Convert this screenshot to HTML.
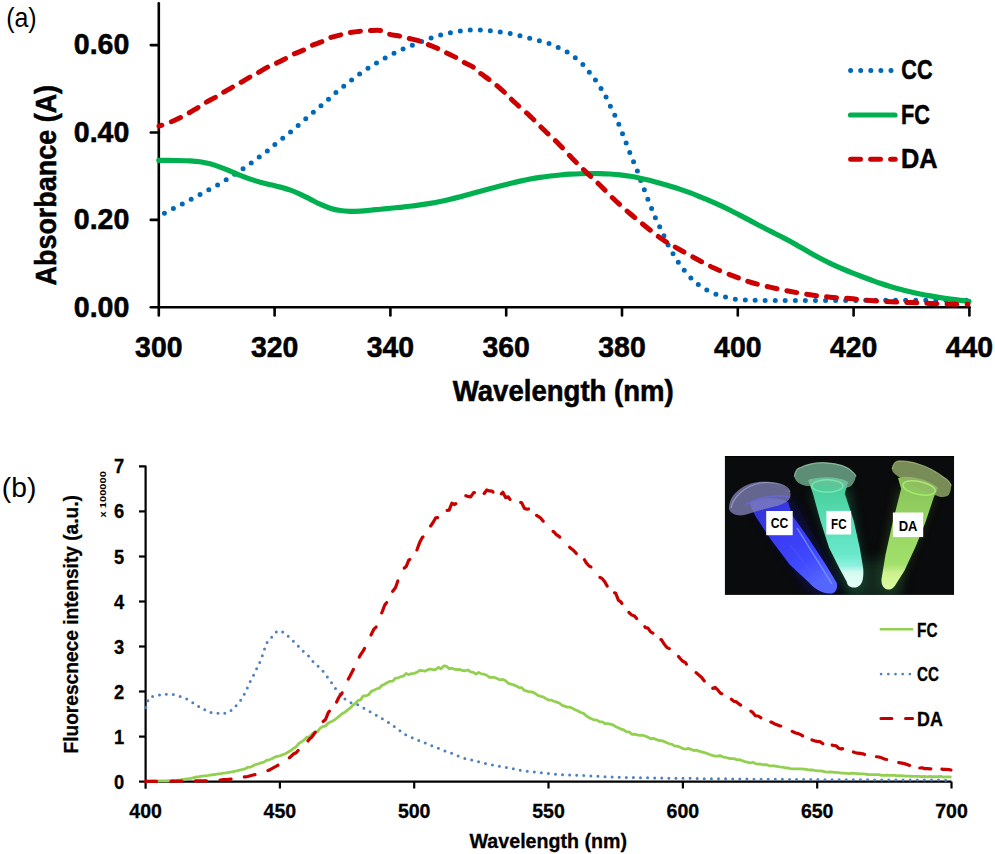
<!DOCTYPE html>
<html><head><meta charset="utf-8"><title>Absorbance and fluorescence spectra</title>
<style>html,body{margin:0;padding:0;background:#fff;width:995px;height:854px;overflow:hidden}svg{display:block}</style>
</head><body>
<svg width="995" height="854" viewBox="0 0 995 854" font-family='"Liberation Sans", sans-serif'>
<rect width="995" height="854" fill="#fff"/>
<g stroke="#000" stroke-width="2.6" fill="none" stroke-linecap="round">
<path d="M158.8,3.2 L158.8,315.5"/>
<path d="M158.8,307.3 L969.4,307.3"/>
<path d="M150.8,219.9 L158.8,219.9"/>
<path d="M150.8,132.5 L158.8,132.5"/>
<path d="M150.8,45.1 L158.8,45.1"/>
<path d="M150.8,307.3 L158.8,307.3"/>
<path d="M274.6,307.3 L274.6,315.5"/>
<path d="M390.4,307.3 L390.4,315.5"/>
<path d="M506.2,307.3 L506.2,315.5"/>
<path d="M622.0,307.3 L622.0,315.5"/>
<path d="M737.8,307.3 L737.8,315.5"/>
<path d="M853.6,307.3 L853.6,315.5"/>
<path d="M969.4,307.3 L969.4,315.5"/>
</g>
<text x="129.3" y="316.6" font-size="29.5" font-weight="bold" text-anchor="end" textLength="55.5" lengthAdjust="spacingAndGlyphs" stroke="#000" stroke-width="0.55">0.00</text>
<text x="129.3" y="229.2" font-size="29.5" font-weight="bold" text-anchor="end" textLength="55.5" lengthAdjust="spacingAndGlyphs" stroke="#000" stroke-width="0.55">0.20</text>
<text x="129.3" y="141.8" font-size="29.5" font-weight="bold" text-anchor="end" textLength="55.5" lengthAdjust="spacingAndGlyphs" stroke="#000" stroke-width="0.55">0.40</text>
<text x="129.3" y="54.4" font-size="29.5" font-weight="bold" text-anchor="end" textLength="55.5" lengthAdjust="spacingAndGlyphs" stroke="#000" stroke-width="0.55">0.60</text>
<text x="158.8" y="357.3" font-size="29.5" font-weight="bold" text-anchor="middle" textLength="47.4" lengthAdjust="spacingAndGlyphs" stroke="#000" stroke-width="0.55">300</text>
<text x="274.6" y="357.3" font-size="29.5" font-weight="bold" text-anchor="middle" textLength="47.4" lengthAdjust="spacingAndGlyphs" stroke="#000" stroke-width="0.55">320</text>
<text x="390.4" y="357.3" font-size="29.5" font-weight="bold" text-anchor="middle" textLength="47.4" lengthAdjust="spacingAndGlyphs" stroke="#000" stroke-width="0.55">340</text>
<text x="506.2" y="357.3" font-size="29.5" font-weight="bold" text-anchor="middle" textLength="47.4" lengthAdjust="spacingAndGlyphs" stroke="#000" stroke-width="0.55">360</text>
<text x="622.0" y="357.3" font-size="29.5" font-weight="bold" text-anchor="middle" textLength="47.4" lengthAdjust="spacingAndGlyphs" stroke="#000" stroke-width="0.55">380</text>
<text x="737.8" y="357.3" font-size="29.5" font-weight="bold" text-anchor="middle" textLength="47.4" lengthAdjust="spacingAndGlyphs" stroke="#000" stroke-width="0.55">400</text>
<text x="853.6" y="357.3" font-size="29.5" font-weight="bold" text-anchor="middle" textLength="47.4" lengthAdjust="spacingAndGlyphs" stroke="#000" stroke-width="0.55">420</text>
<text x="969.4" y="357.3" font-size="29.5" font-weight="bold" text-anchor="middle" textLength="47.4" lengthAdjust="spacingAndGlyphs" stroke="#000" stroke-width="0.55">440</text>
<text x="563.3" y="401.0" font-size="29.0" font-weight="bold" text-anchor="middle" textLength="221.0" lengthAdjust="spacingAndGlyphs" stroke="#000" stroke-width="0.55">Wavelength (nm)</text>
<g transform="translate(55.5,185.2) rotate(-90)"><text x="0.0" y="0.0" font-size="29.5" font-weight="bold" text-anchor="middle" textLength="200.5" lengthAdjust="spacingAndGlyphs" stroke="#000" stroke-width="0.55">Absorbance (A)</text></g>
<text x="6.2" y="26.7" font-size="27.5" font-weight="normal" text-anchor="start" textLength="30.5" lengthAdjust="spacingAndGlyphs">(a)</text>
<path d="M158.80,216.20 C159.75,215.68 162.05,214.38 164.50,213.10 C166.95,211.82 170.50,210.05 173.50,208.50 C176.50,206.95 179.52,205.35 182.50,203.80 C185.48,202.25 188.48,200.73 191.40,199.20 C194.32,197.67 197.10,196.17 200.00,194.60 C202.90,193.03 205.87,191.42 208.80,189.80 C211.73,188.18 214.73,186.57 217.60,184.90 C220.47,183.23 223.18,181.57 226.00,179.80 C228.82,178.03 231.67,176.12 234.50,174.30 C237.33,172.48 240.22,170.77 243.00,168.90 C245.78,167.03 248.48,165.08 251.20,163.10 C253.92,161.12 256.62,159.00 259.30,157.00 C261.98,155.00 264.73,153.17 267.30,151.10 C269.87,149.03 272.12,146.75 274.70,144.60 C277.28,142.45 280.17,140.30 282.80,138.20 C285.43,136.10 287.93,134.13 290.50,132.00 C293.07,129.87 295.67,127.58 298.20,125.40 C300.73,123.22 303.17,121.08 305.70,118.90 C308.23,116.72 310.83,114.50 313.40,112.30 C315.97,110.10 318.58,107.88 321.10,105.70 C323.62,103.52 326.00,101.43 328.50,99.20 C331.00,96.97 333.55,94.48 336.10,92.30 C338.65,90.12 341.23,88.15 343.80,86.10 C346.37,84.05 348.92,82.00 351.50,80.00 C354.08,78.00 356.57,76.03 359.30,74.10 C362.03,72.17 365.02,70.25 367.90,68.40 C370.78,66.55 373.72,64.73 376.60,63.00 C379.48,61.27 382.30,59.62 385.20,58.00 C388.10,56.38 391.03,54.80 394.00,53.30 C396.97,51.80 399.92,50.37 403.00,49.00 C406.08,47.63 409.35,46.37 412.50,45.10 C415.65,43.83 418.78,42.58 421.90,41.40 C425.02,40.22 428.07,39.08 431.20,38.00 C434.33,36.92 437.53,35.77 440.70,34.90 C443.87,34.03 446.97,33.45 450.20,32.80 C453.43,32.15 456.82,31.47 460.10,31.00 C463.38,30.53 466.57,30.17 469.90,30.00 C473.23,29.83 476.72,29.88 480.10,30.00 C483.48,30.12 486.85,30.37 490.20,30.70 C493.55,31.03 496.87,31.52 500.20,32.00 C503.53,32.48 506.90,32.98 510.20,33.60 C513.50,34.22 516.78,34.93 520.00,35.70 C523.22,36.47 526.28,37.37 529.50,38.20 C532.72,39.03 536.07,39.83 539.30,40.70 C542.53,41.57 545.75,42.27 548.90,43.40 C552.05,44.53 555.15,46.05 558.20,47.50 C561.25,48.95 564.38,50.40 567.20,52.10 C570.02,53.80 572.50,55.65 575.10,57.70 C577.70,59.75 580.43,62.00 582.80,64.40 C585.17,66.80 587.20,69.50 589.30,72.10 C591.40,74.70 593.43,77.27 595.40,80.00 C597.37,82.73 599.32,85.63 601.10,88.50 C602.88,91.37 604.57,94.28 606.10,97.20 C607.63,100.12 608.85,103.02 610.30,106.00 C611.75,108.98 613.37,112.00 614.80,115.10 C616.23,118.20 617.60,121.47 618.90,124.60 C620.20,127.73 621.38,130.82 622.60,133.90 C623.82,136.98 625.00,140.00 626.20,143.10 C627.40,146.20 628.57,149.38 629.80,152.50 C631.03,155.62 632.33,158.72 633.60,161.80 C634.87,164.88 636.22,167.92 637.40,171.00 C638.58,174.08 639.55,177.18 640.70,180.30 C641.85,183.42 643.10,186.55 644.30,189.70 C645.50,192.85 646.68,196.08 647.90,199.20 C649.12,202.32 650.35,205.30 651.60,208.40 C652.85,211.50 654.07,214.75 655.40,217.80 C656.73,220.85 658.20,223.75 659.60,226.70 C661.00,229.65 662.38,232.45 663.80,235.50 C665.22,238.55 666.57,241.97 668.10,245.00 C669.63,248.03 671.30,250.83 673.00,253.70 C674.70,256.57 676.43,259.43 678.30,262.20 C680.17,264.97 682.08,267.67 684.20,270.30 C686.32,272.93 688.65,275.62 691.00,278.00 C693.35,280.38 695.68,282.62 698.30,284.60 C700.92,286.58 703.78,288.32 706.70,289.90 C709.62,291.48 712.68,292.92 715.80,294.10 C718.92,295.28 722.22,296.17 725.40,297.00 C728.58,297.83 731.63,298.58 734.90,299.10 C738.17,299.62 740.82,299.88 745.00,300.10 C749.18,300.32 750.83,300.33 760.00,300.40 C769.17,300.47 785.00,300.50 800.00,300.50 C815.00,300.50 833.33,300.45 850.00,300.40 C866.67,300.35 880.17,300.23 900.00,300.20 C919.83,300.17 957.50,300.20 969.00,300.20" fill="none" stroke="#0068B8" stroke-width="5" stroke-linecap="round" stroke-dasharray="0 10.03" stroke-dashoffset="3.6"/>
<path d="M158.80,160.30 C161.50,160.33 169.80,160.39 175.00,160.48 C180.20,160.57 185.83,160.63 190.00,160.85 C194.17,161.07 196.67,161.30 200.00,161.80 C203.33,162.30 206.65,162.95 210.00,163.82 C213.35,164.70 216.73,165.85 220.10,167.07 C223.47,168.29 226.85,169.75 230.20,171.13 C233.55,172.51 236.85,174.02 240.20,175.36 C243.55,176.69 246.95,178.02 250.30,179.16 C253.65,180.31 256.95,181.31 260.30,182.23 C263.65,183.15 267.05,183.88 270.40,184.69 C273.75,185.51 277.05,186.21 280.40,187.12 C283.75,188.02 287.23,188.96 290.50,190.13 C293.77,191.30 296.75,192.64 300.00,194.13 C303.25,195.62 306.65,197.41 310.00,199.09 C313.35,200.77 316.73,202.67 320.10,204.20 C323.47,205.72 326.85,207.17 330.20,208.23 C333.55,209.28 336.85,210.02 340.20,210.53 C343.55,211.04 346.95,211.21 350.30,211.30 C353.65,211.39 356.95,211.23 360.30,211.05 C363.65,210.88 367.05,210.55 370.40,210.25 C373.75,209.95 377.05,209.57 380.40,209.24 C383.75,208.90 387.23,208.57 390.50,208.25 C393.77,207.93 396.75,207.66 400.00,207.33 C403.25,206.99 406.65,206.66 410.00,206.26 C413.35,205.85 416.73,205.40 420.10,204.91 C423.47,204.43 426.85,203.91 430.20,203.34 C433.55,202.77 436.85,202.17 440.20,201.49 C443.55,200.81 446.95,200.05 450.30,199.25 C453.65,198.45 456.95,197.55 460.30,196.66 C463.65,195.77 467.05,194.82 470.40,193.91 C473.75,192.99 477.05,192.06 480.40,191.16 C483.75,190.27 487.23,189.40 490.50,188.55 C493.77,187.70 496.75,186.89 500.00,186.06 C503.25,185.22 506.65,184.38 510.00,183.56 C513.35,182.74 516.73,181.89 520.10,181.12 C523.47,180.36 526.85,179.64 530.20,179.00 C533.55,178.36 536.85,177.81 540.20,177.31 C543.55,176.81 546.95,176.38 550.30,175.99 C553.65,175.60 556.95,175.26 560.30,174.97 C563.65,174.67 567.05,174.42 570.40,174.22 C573.75,174.01 577.05,173.85 580.40,173.74 C583.75,173.62 587.23,173.54 590.50,173.52 C593.77,173.49 596.75,173.51 600.00,173.59 C603.25,173.67 606.65,173.80 610.00,174.01 C613.35,174.22 616.73,174.49 620.10,174.86 C623.47,175.23 626.85,175.67 630.20,176.23 C633.55,176.78 636.85,177.44 640.20,178.17 C643.55,178.89 646.95,179.74 650.30,180.60 C653.65,181.46 656.95,182.38 660.30,183.32 C663.65,184.26 667.05,185.21 670.40,186.22 C673.75,187.23 677.05,188.27 680.40,189.39 C683.75,190.50 687.23,191.67 690.50,192.90 C693.77,194.13 696.75,195.42 700.00,196.75 C703.25,198.09 706.65,199.49 710.00,200.93 C713.35,202.38 716.73,203.88 720.10,205.43 C723.47,206.98 726.85,208.58 730.20,210.23 C733.55,211.88 736.85,213.59 740.20,215.33 C743.55,217.07 746.95,218.89 750.30,220.67 C753.65,222.45 756.95,224.26 760.30,226.01 C763.65,227.76 767.05,229.47 770.40,231.17 C773.75,232.88 777.05,234.54 780.40,236.25 C783.75,237.96 787.23,239.66 790.50,241.46 C793.77,243.25 796.75,245.11 800.00,247.00 C803.25,248.89 806.65,250.88 810.00,252.77 C813.35,254.66 816.73,256.55 820.10,258.32 C823.47,260.08 826.85,261.76 830.20,263.36 C833.55,264.95 836.85,266.45 840.20,267.90 C843.55,269.35 846.95,270.71 850.30,272.06 C853.65,273.40 856.95,274.68 860.30,275.96 C863.65,277.23 867.08,278.50 870.40,279.73 C873.72,280.95 876.90,282.18 880.20,283.31 C883.50,284.45 886.88,285.53 890.20,286.53 C893.52,287.53 896.77,288.45 900.10,289.32 C903.43,290.20 906.85,291.01 910.20,291.77 C913.55,292.54 916.85,293.26 920.20,293.94 C923.55,294.63 926.95,295.27 930.30,295.88 C933.65,296.48 936.95,297.06 940.30,297.59 C943.65,298.12 947.05,298.61 950.40,299.06 C953.75,299.52 957.30,299.92 960.40,300.31 C963.50,300.70 967.57,301.22 969.00,301.40" fill="none" stroke="#00B050" stroke-width="5.2" stroke-linecap="round" stroke-linejoin="round"/>
<path d="M159.00,126.20 C160.93,125.52 166.90,123.60 170.60,122.10 C174.30,120.60 178.20,118.70 181.20,117.20 C184.20,115.70 185.73,114.73 188.60,113.10 C191.47,111.47 195.53,109.17 198.40,107.40 C201.27,105.63 202.78,104.28 205.80,102.50 C208.82,100.72 213.63,98.35 216.50,96.70 C219.37,95.05 220.27,94.23 223.00,92.60 C225.73,90.97 230.03,88.53 232.90,86.90 C235.77,85.27 237.35,84.45 240.20,82.80 C243.05,81.15 247.12,78.63 250.00,77.00 C252.88,75.37 254.33,74.77 257.50,73.00 C260.67,71.23 265.82,68.05 269.00,66.40 C272.18,64.75 273.97,64.33 276.60,63.10 C279.23,61.87 281.93,60.50 284.80,59.00 C287.67,57.50 290.67,55.60 293.80,54.10 C296.93,52.60 300.47,51.50 303.60,50.00 C306.73,48.50 309.60,46.47 312.60,45.10 C315.60,43.73 318.70,43.02 321.60,41.80 C324.50,40.58 326.67,39.00 330.00,37.80 C333.33,36.60 338.33,35.47 341.60,34.60 C344.87,33.73 346.33,33.18 349.60,32.60 C352.87,32.02 357.85,31.43 361.20,31.10 C364.55,30.77 366.35,30.68 369.70,30.60 C373.05,30.52 378.12,30.02 381.30,30.60 C384.48,31.18 385.62,33.15 388.80,34.10 C391.98,35.05 397.13,35.60 400.40,36.30 C403.67,37.00 405.05,37.47 408.40,38.30 C411.75,39.13 417.30,40.30 420.50,41.30 C423.70,42.30 424.77,43.12 427.60,44.30 C430.43,45.48 434.48,47.03 437.50,48.40 C440.52,49.77 442.57,50.95 445.70,52.50 C448.83,54.05 453.30,56.07 456.30,57.70 C459.30,59.33 460.83,60.72 463.70,62.30 C466.57,63.88 470.78,65.42 473.50,67.20 C476.22,68.98 477.40,70.95 480.00,73.00 C482.60,75.05 486.35,77.47 489.10,79.50 C491.85,81.53 493.90,83.02 496.50,85.20 C499.10,87.38 501.65,89.72 504.70,92.60 C507.75,95.48 510.53,98.53 514.80,102.50 C519.07,106.47 525.38,111.77 530.30,116.40 C535.22,121.03 539.65,125.80 544.30,130.30 C548.95,134.80 553.57,138.75 558.20,143.40 C562.83,148.05 567.45,153.42 572.10,158.20 C576.75,162.98 581.45,167.60 586.10,172.10 C590.75,176.60 595.22,180.55 600.00,185.20 C604.78,189.85 609.72,195.20 614.80,200.00 C619.88,204.80 625.30,209.55 630.50,214.00 C635.70,218.45 640.72,222.48 646.00,226.70 C651.28,230.92 656.70,235.55 662.20,239.30 C667.70,243.05 673.27,245.92 679.00,249.20 C684.73,252.48 690.75,255.85 696.60,259.00 C702.45,262.15 708.02,265.28 714.10,268.10 C720.18,270.92 726.90,273.50 733.10,275.90 C739.30,278.30 744.98,280.58 751.30,282.50 C757.62,284.42 764.43,285.90 771.00,287.40 C777.57,288.90 784.15,290.27 790.70,291.50 C797.25,292.73 803.75,293.85 810.30,294.80 C816.85,295.75 823.38,296.57 830.00,297.20 C836.62,297.83 843.28,298.05 850.00,298.60 C856.72,299.15 863.52,299.97 870.30,300.50 C877.08,301.03 883.90,301.45 890.70,301.80 C897.50,302.15 904.43,302.33 911.10,302.60 C917.77,302.87 924.15,303.15 930.70,303.40 C937.25,303.65 944.18,303.95 950.40,304.10 C956.62,304.25 965.07,304.27 968.00,304.30" fill="none" stroke="#CC0000" stroke-width="5" stroke-linecap="round" stroke-dasharray="10 10.09" stroke-dashoffset="6.92"/>
<path d="M850.6,70.6 L893,70.6" stroke="#0068B8" stroke-width="5" stroke-linecap="round" stroke-dasharray="0 10.1"/>
<path d="M850.5,115 L895,115" stroke="#00B050" stroke-width="5.2" stroke-linecap="round"/>
<path d="M850.6,159.2 L895.2,159.2" stroke="#CC0000" stroke-width="5" stroke-linecap="round" stroke-dasharray="9.9 10.1"/>
<text x="901.3" y="79.3" font-size="28.0" font-weight="bold" text-anchor="start" textLength="31.2" lengthAdjust="spacingAndGlyphs" stroke="#000" stroke-width="0.55">CC</text>
<text x="901.0" y="124.0" font-size="28.0" font-weight="bold" text-anchor="start" textLength="28.9" lengthAdjust="spacingAndGlyphs" stroke="#000" stroke-width="0.55">FC</text>
<text x="901.0" y="168.4" font-size="28.0" font-weight="bold" text-anchor="start" textLength="36.6" lengthAdjust="spacingAndGlyphs" stroke="#000" stroke-width="0.55">DA</text>
<g stroke="#000" stroke-width="2.2" fill="none" stroke-linecap="butt" stroke-linejoin="round">
<path d="M139,466.4 L145.6,466.4 L145.6,788.8"/>
<path d="M145.6,781.6 L951.5,781.6"/>
<path d="M139,781.6 L145.6,781.6"/>
<path d="M139,736.6 L145.6,736.6"/>
<path d="M139,691.5 L145.6,691.5"/>
<path d="M139,646.5 L145.6,646.5"/>
<path d="M139,601.5 L145.6,601.5"/>
<path d="M139,556.5 L145.6,556.5"/>
<path d="M139,511.4 L145.6,511.4"/>
<path d="M279.9,781.6 L279.9,788.5"/>
<path d="M414.2,781.6 L414.2,788.5"/>
<path d="M548.5,781.6 L548.5,788.5"/>
<path d="M682.9,781.6 L682.9,788.5"/>
<path d="M817.2,781.6 L817.2,788.5"/>
<path d="M951.5,781.6 L951.5,788.5"/>
</g>
<text x="124.2" y="788.6" font-size="19.5" font-weight="bold" text-anchor="end" textLength="10.2" lengthAdjust="spacingAndGlyphs" stroke="#000" stroke-width="0.3">0</text>
<text x="124.2" y="743.6" font-size="19.5" font-weight="bold" text-anchor="end" textLength="10.2" lengthAdjust="spacingAndGlyphs" stroke="#000" stroke-width="0.3">1</text>
<text x="124.2" y="698.5" font-size="19.5" font-weight="bold" text-anchor="end" textLength="10.2" lengthAdjust="spacingAndGlyphs" stroke="#000" stroke-width="0.3">2</text>
<text x="124.2" y="653.5" font-size="19.5" font-weight="bold" text-anchor="end" textLength="10.2" lengthAdjust="spacingAndGlyphs" stroke="#000" stroke-width="0.3">3</text>
<text x="124.2" y="608.5" font-size="19.5" font-weight="bold" text-anchor="end" textLength="10.2" lengthAdjust="spacingAndGlyphs" stroke="#000" stroke-width="0.3">4</text>
<text x="124.2" y="563.5" font-size="19.5" font-weight="bold" text-anchor="end" textLength="10.2" lengthAdjust="spacingAndGlyphs" stroke="#000" stroke-width="0.3">5</text>
<text x="124.2" y="518.4" font-size="19.5" font-weight="bold" text-anchor="end" textLength="10.2" lengthAdjust="spacingAndGlyphs" stroke="#000" stroke-width="0.3">6</text>
<text x="124.2" y="473.4" font-size="19.5" font-weight="bold" text-anchor="end" textLength="10.2" lengthAdjust="spacingAndGlyphs" stroke="#000" stroke-width="0.3">7</text>
<text x="145.6" y="817.6" font-size="19.5" font-weight="bold" text-anchor="middle" textLength="32.6" lengthAdjust="spacingAndGlyphs" stroke="#000" stroke-width="0.3">400</text>
<text x="279.9" y="817.6" font-size="19.5" font-weight="bold" text-anchor="middle" textLength="32.6" lengthAdjust="spacingAndGlyphs" stroke="#000" stroke-width="0.3">450</text>
<text x="414.2" y="817.6" font-size="19.5" font-weight="bold" text-anchor="middle" textLength="32.6" lengthAdjust="spacingAndGlyphs" stroke="#000" stroke-width="0.3">500</text>
<text x="548.5" y="817.6" font-size="19.5" font-weight="bold" text-anchor="middle" textLength="32.6" lengthAdjust="spacingAndGlyphs" stroke="#000" stroke-width="0.3">550</text>
<text x="682.9" y="817.6" font-size="19.5" font-weight="bold" text-anchor="middle" textLength="32.6" lengthAdjust="spacingAndGlyphs" stroke="#000" stroke-width="0.3">600</text>
<text x="817.2" y="817.6" font-size="19.5" font-weight="bold" text-anchor="middle" textLength="32.6" lengthAdjust="spacingAndGlyphs" stroke="#000" stroke-width="0.3">650</text>
<text x="951.5" y="817.6" font-size="19.5" font-weight="bold" text-anchor="middle" textLength="32.6" lengthAdjust="spacingAndGlyphs" stroke="#000" stroke-width="0.3">700</text>
<text x="548.3" y="848.0" font-size="20.5" font-weight="bold" text-anchor="middle" textLength="157.5" lengthAdjust="spacingAndGlyphs" stroke="#000" stroke-width="0.3">Wavelength (nm)</text>
<g transform="translate(78.2,624.3) rotate(-90)"><text x="0.0" y="0.0" font-size="20.5" font-weight="bold" text-anchor="middle" textLength="258.5" lengthAdjust="spacingAndGlyphs" stroke="#000" stroke-width="0.3">Fluorescnece intensity (a.u.)</text></g>
<g transform="translate(106.0,494.3) rotate(-90)"><text x="0.0" y="0.0" font-size="9.6" font-weight="bold" text-anchor="middle" textLength="46.4" lengthAdjust="spacingAndGlyphs">x 100000</text></g>
<text x="1.8" y="496.8" font-size="27.5" font-weight="normal" text-anchor="start" textLength="34.5" lengthAdjust="spacingAndGlyphs">(b)</text>
<path d="M145.60,781.28 L148.29,781.15 L150.97,781.10 L153.66,780.94 L156.35,781.03 L159.03,780.96 L161.72,780.88 L164.40,780.84 L167.09,780.75 L169.78,780.53 L172.46,780.42 L175.15,780.30 L177.84,780.21 L180.52,779.95 L183.21,779.43 L185.89,779.01 L188.58,778.73 L191.27,778.30 L193.95,777.52 L196.64,776.90 L199.33,776.73 L202.01,776.09 L204.70,775.91 L207.39,775.71 L210.07,775.19 L212.76,774.74 L215.44,774.51 L218.13,773.85 L220.82,773.56 L223.50,773.09 L226.19,772.78 L228.88,772.31 L231.56,771.92 L234.25,771.35 L236.94,770.86 L239.62,770.18 L242.31,769.49 L244.99,768.98 L247.68,767.31 L250.37,767.21 L253.05,765.81 L255.74,764.50 L258.43,763.79 L261.11,762.82 L263.80,762.10 L266.48,760.34 L269.17,759.78 L271.86,758.77 L274.54,757.12 L277.23,756.29 L279.92,755.88 L282.60,754.76 L285.29,753.72 L287.98,752.17 L290.66,750.55 L293.35,748.55 L296.03,746.84 L298.72,743.63 L301.41,741.78 L304.09,740.06 L306.78,737.20 L309.47,736.79 L312.15,733.85 L314.84,732.32 L317.53,731.60 L320.21,728.11 L322.90,726.48 L325.58,726.03 L328.27,723.02 L330.96,721.82 L333.64,720.59 L336.33,718.49 L339.02,716.35 L341.70,713.99 L344.39,712.54 L347.07,710.46 L349.76,708.41 L352.45,705.73 L355.13,703.67 L357.82,700.54 L360.51,699.87 L363.19,695.86 L365.88,695.78 L368.57,694.88 L371.25,691.41 L373.94,690.27 L376.62,688.88 L379.31,688.20 L382.00,685.32 L384.68,684.28 L387.37,682.52 L390.06,681.33 L392.74,681.17 L395.43,678.21 L398.12,677.78 L400.80,676.72 L403.49,676.08 L406.17,673.53 L408.86,674.67 L411.55,673.56 L414.23,673.40 L416.92,672.28 L419.61,670.43 L422.29,670.65 L424.98,671.14 L427.66,669.79 L430.35,668.98 L433.04,669.76 L435.72,669.52 L438.41,667.32 L441.10,668.93 L443.78,665.97 L446.47,666.18 L449.16,668.81 L451.84,668.23 L454.53,669.25 L457.21,669.57 L459.90,669.50 L462.59,670.60 L465.27,670.75 L467.96,670.01 L470.65,671.94 L473.33,672.42 L476.02,674.20 L478.71,672.40 L481.39,673.87 L484.08,674.21 L486.76,675.21 L489.45,677.43 L492.14,677.29 L494.82,677.47 L497.51,678.71 L500.20,679.91 L502.88,679.37 L505.57,680.84 L508.25,683.32 L510.94,684.14 L513.63,684.91 L516.31,686.00 L519.00,687.51 L521.69,687.63 L524.37,690.49 L527.06,691.08 L529.75,691.96 L532.43,692.01 L535.12,693.48 L537.80,695.41 L540.49,696.29 L543.18,696.85 L545.86,698.63 L548.55,700.03 L551.24,700.04 L553.92,701.23 L556.61,702.09 L559.30,702.97 L561.98,705.32 L564.67,706.19 L567.35,707.14 L570.04,707.21 L572.73,708.33 L575.41,710.02 L578.10,710.93 L580.79,712.51 L583.47,713.35 L586.16,715.57 L588.84,717.62 L591.53,718.71 L594.22,719.91 L596.90,720.12 L599.59,721.68 L602.28,721.92 L604.96,723.56 L607.65,723.56 L610.34,724.21 L613.02,724.92 L615.71,726.69 L618.39,727.75 L621.08,729.16 L623.77,729.89 L626.45,731.82 L629.14,731.94 L631.83,734.23 L634.51,734.04 L637.20,734.83 L639.89,735.32 L642.57,735.24 L645.26,736.01 L647.94,737.35 L650.63,738.81 L653.32,738.30 L656.00,739.34 L658.69,740.51 L661.38,740.58 L664.06,741.39 L666.75,742.80 L669.43,743.76 L672.12,744.40 L674.81,746.08 L677.49,746.17 L680.18,747.23 L682.87,748.55 L685.55,749.25 L688.24,748.36 L690.93,749.34 L693.61,750.51 L696.30,750.09 L698.98,751.08 L701.67,751.81 L704.36,752.63 L707.04,753.43 L709.73,754.53 L712.42,755.46 L715.10,756.05 L717.79,755.98 L720.48,755.77 L723.16,757.03 L725.85,757.47 L728.53,758.25 L731.22,758.61 L733.91,758.55 L736.59,759.86 L739.28,759.54 L741.97,760.58 L744.65,761.51 L747.34,762.10 L750.02,763.03 L752.71,762.22 L755.40,763.51 L758.08,764.01 L760.77,764.08 L763.46,764.77 L766.14,764.63 L768.83,765.55 L771.52,765.89 L774.20,765.82 L776.89,766.29 L779.57,766.80 L782.26,767.03 L784.95,767.85 L787.63,767.94 L790.32,768.57 L793.01,768.83 L795.69,768.80 L798.38,768.96 L801.07,768.97 L803.75,769.22 L806.44,769.45 L809.12,770.00 L811.81,769.96 L814.50,770.48 L817.18,770.78 L819.87,770.88 L822.56,771.23 L825.24,771.89 L827.93,772.18 L830.61,771.86 L833.30,772.23 L835.99,772.41 L838.67,772.62 L841.36,773.17 L844.05,773.11 L846.73,773.34 L849.42,773.56 L852.11,773.20 L854.79,773.38 L857.48,773.56 L860.16,773.93 L862.85,773.86 L865.54,774.20 L868.22,774.49 L870.91,774.67 L873.60,774.70 L876.28,774.63 L878.97,774.64 L881.66,775.30 L884.34,775.30 L887.03,775.15 L889.71,775.34 L892.40,775.45 L895.09,775.32 L897.77,775.77 L900.46,775.67 L903.15,775.85 L905.83,776.13 L908.52,776.06 L911.20,776.26 L913.89,776.31 L916.58,776.32 L919.26,776.39 L921.95,776.76 L924.64,776.47 L927.32,776.83 L930.01,776.45 L932.70,776.77 L935.38,776.73 L938.07,776.63 L940.75,776.39 L943.44,777.16 L946.13,776.81 L948.81,776.94 L951.50,777.22" fill="none" stroke="#92D050" stroke-width="2.8" stroke-linejoin="round"/>
<path d="M145.90,707.58 L148.59,698.19 L151.27,696.69 L153.96,696.07 L156.65,695.10 L159.33,695.08 L162.02,694.74 L164.70,693.77 L167.39,694.68 L170.08,694.61 L172.76,694.43 L175.45,695.06 L178.14,695.97 L180.82,696.56 L183.51,697.71 L186.19,698.57 L188.88,700.64 L191.57,701.93 L194.25,703.59 L196.94,704.70 L199.63,707.49 L202.31,708.64 L205.00,709.98 L207.69,712.18 L210.37,712.55 L213.06,712.82 L215.74,713.59 L218.43,713.12 L221.12,714.11 L223.80,713.34 L226.49,712.76 L229.18,712.38 L231.86,709.71 L234.55,708.14 L237.24,703.98 L239.92,701.23 L242.61,698.09 L245.29,692.02 L247.98,686.70 L250.67,680.46 L253.35,675.58 L256.04,669.89 L258.73,664.90 L261.41,658.63 L264.10,650.24 L266.78,642.98 L269.47,638.56 L272.16,636.97 L274.84,633.48 L277.53,630.65 L280.22,631.47 L282.90,632.06 L285.59,633.91 L288.28,636.43 L290.96,638.87 L293.65,641.50 L296.33,643.64 L299.02,647.12 L301.71,649.45 L304.39,652.68 L307.08,654.73 L309.77,657.13 L312.45,660.92 L315.14,664.35 L317.83,666.05 L320.51,668.63 L323.20,671.50 L325.88,674.91 L328.57,678.80 L331.26,682.20 L333.94,687.01 L336.63,689.74 L339.32,693.04 L342.00,696.43 L344.69,698.96 L347.37,700.34 L350.06,702.23 L352.75,703.74 L355.43,704.37 L358.12,704.83 L360.81,706.68 L363.49,708.04 L366.18,709.65 L368.87,710.91 L371.55,712.72 L374.24,714.07 L376.92,715.50 L379.61,717.30 L382.30,718.85 L384.98,720.23 L387.67,721.90 L390.36,723.71 L393.04,725.44 L395.73,727.67 L398.42,729.52 L401.10,731.49 L403.79,733.82 L406.47,735.15 L409.16,736.31 L411.85,737.49 L414.53,738.49 L417.22,739.87 L419.91,740.93 L422.59,741.53 L425.28,743.10 L427.96,743.91 L430.65,745.47 L433.34,746.23 L436.02,747.67 L438.71,748.22 L441.40,749.33 L444.08,750.53 L446.77,751.76 L449.46,752.75 L452.14,753.49 L454.83,754.88 L457.51,755.86 L460.20,756.69 L462.89,757.49 L465.57,758.74 L468.26,759.07 L470.95,759.71 L473.63,760.67 L476.32,761.22 L479.01,761.81 L481.69,762.57 L484.38,763.14 L487.06,763.74 L489.75,764.45 L492.44,764.93 L495.12,765.35 L497.81,765.95 L500.50,766.46 L503.18,767.10 L505.87,767.42 L508.55,767.82 L511.24,768.61 L513.93,768.90 L516.61,769.30 L519.30,770.09 L521.99,770.40 L524.67,771.00 L527.36,771.28 L530.05,771.59 L532.73,771.90 L535.42,772.27 L538.10,772.54 L540.79,772.72 L543.48,773.05 L546.16,773.21 L548.85,773.70 L551.54,773.76 L554.22,774.15 L556.91,774.41 L559.60,774.60 L562.28,774.80 L564.97,774.59 L567.65,774.96 L570.34,775.13 L573.03,775.22 L575.71,775.16 L578.40,775.42 L581.09,775.70 L583.77,775.51 L586.46,775.84 L589.14,776.04 L591.83,776.01 L594.52,776.26 L597.20,776.24 L599.89,776.39 L602.58,776.51 L605.26,776.71 L607.95,776.79 L610.64,776.98 L613.32,776.91 L616.01,777.07 L618.69,777.24 L621.38,777.29 L624.07,777.21 L626.75,777.45 L629.44,777.42 L632.13,777.55 L634.81,777.59 L637.50,777.71 L640.19,777.66 L642.87,777.54 L645.56,777.62 L648.24,777.83 L650.93,777.80 L653.62,777.95 L656.30,777.93 L658.99,777.90 L661.68,778.08 L664.36,777.98 L667.05,777.94 L669.73,778.29 L672.42,778.04 L675.11,778.27 L677.79,778.34 L680.48,778.33 L683.17,778.24 L685.85,778.47 L688.54,778.34 L691.23,778.39 L693.91,778.49 L696.60,778.61 L699.28,778.61 L701.97,778.68 L704.66,778.63 L707.34,778.68 L710.03,778.64 L712.72,778.73 L715.40,778.82 L718.09,778.79 L720.78,778.87 L723.46,778.83 L726.15,778.85 L728.83,778.92 L731.52,778.93 L734.21,779.01 L736.89,779.01 L739.58,779.13 L742.27,779.03 L744.95,779.06 L747.64,779.03 L750.32,779.12 L753.01,779.18 L755.70,779.12 L758.38,779.18 L761.07,779.25 L763.76,779.22 L766.44,779.22 L769.13,779.33 L771.82,779.30 L774.50,779.34 L777.19,779.40 L779.87,779.42 L782.56,779.35 L785.25,779.36 L787.93,779.42 L790.62,779.41 L793.31,779.33 L795.99,779.53 L798.68,779.47 L801.37,779.53 L804.05,779.44 L806.74,779.60 L809.42,779.50 L812.11,779.55 L814.80,779.49 L817.48,779.58 L820.17,779.59 L822.86,779.61 L825.54,779.66 L828.23,779.65 L830.91,779.72 L833.60,779.65 L836.29,779.64 L838.97,779.71 L841.66,779.76 L844.35,779.80 L847.03,779.80 L849.72,779.67 L852.41,779.80 L855.09,779.87 L857.78,779.81 L860.46,779.79 L863.15,779.85 L865.84,779.81 L868.52,779.89 L871.21,779.86 L873.90,779.95 L876.58,779.91 L879.27,779.86 L881.96,779.94 L884.64,779.97 L887.33,779.90 L890.01,779.91 L892.70,779.82 L895.39,780.00 L898.07,779.93 L900.76,779.86 L903.45,779.89 L906.13,779.97 L908.82,780.03 L911.50,779.99 L914.19,780.03 L916.88,779.96 L919.56,779.95 L922.25,780.07 L924.94,780.06 L927.62,780.04 L930.31,780.11 L933.00,780.01 L935.68,780.04 L938.37,780.12 L941.05,780.16 L943.74,780.08 L946.43,780.17 L949.11,780.07" fill="none" stroke="#4F81BD" stroke-width="3" stroke-linecap="round" stroke-dasharray="0 7.1"/>
<path d="M145.60,781.33 L148.29,781.31 L150.97,781.26 L153.66,781.34 L156.35,781.32 L156.54,781.31 M170.97,781.28 L172.46,781.21 L175.15,781.24 L177.84,781.21 L180.52,781.18 L181.88,781.14 M195.37,780.95 L196.64,780.95 L199.33,780.93 L202.01,780.94 L204.70,780.82 L206.46,780.78 M220.08,780.12 L220.82,780.04 L223.50,779.66 L226.19,779.71 L228.88,779.31 L231.07,779.10 M244.30,776.96 L244.99,776.95 L247.68,776.48 L250.37,775.72 L253.05,775.05 L255.01,774.68 M267.98,770.44 L269.17,770.10 L271.86,768.59 L274.54,767.17 L277.23,765.67 L277.95,765.29 M289.38,757.79 L290.66,756.73 L293.35,754.04 L296.03,752.83 L298.08,750.47 M307.95,740.94 L309.47,738.96 L312.15,736.71 L314.84,732.76 L315.24,732.20 M323.18,721.47 L325.58,719.42 L328.27,712.59 L329.38,711.32 M336.59,701.99 L339.02,697.00 L341.70,693.75 L342.10,692.83 M348.34,679.10 L349.76,676.49 L352.45,671.26 L353.34,669.43 M359.33,657.03 L360.51,654.84 L363.19,650.86 L364.48,648.50 M371.07,635.05 L371.25,634.53 L373.94,629.05 L376.08,627.06 M381.73,612.92 L382.00,612.30 L384.68,605.20 L386.55,602.58 M392.68,591.34 L392.74,591.23 L395.43,587.67 L397.84,580.97 M404.31,568.11 L406.17,566.58 L408.86,559.92 L409.85,559.59 M416.94,549.95 L419.61,542.60 L422.29,537.42 L422.98,536.99 M430.65,525.97 L433.04,522.50 L435.72,517.78 L437.66,517.67 M447.12,510.29 L449.16,510.11 L451.84,503.22 L454.53,504.53 L455.78,503.65 M465.87,495.70 L467.96,496.41 L470.65,496.93 L473.33,493.06 L474.37,492.55 M484.14,493.48 L486.76,489.94 L489.45,490.89 L492.14,491.07 L492.98,491.97 M501.37,493.89 L502.88,492.22 L505.57,497.61 L508.25,496.77 L509.98,499.43 M520.74,502.44 L521.69,502.72 L524.37,508.36 L527.06,509.21 L528.46,508.96 M536.57,515.38 L537.80,516.13 L540.49,517.82 L543.18,521.17 L543.20,521.20 M553.09,531.34 L553.92,531.93 L556.61,534.97 L559.30,536.49 L559.72,537.18 M569.70,547.30 L570.04,547.71 L572.73,549.73 L575.41,552.35 L576.35,553.55 M584.43,559.78 L586.16,562.67 L588.84,565.81 L590.89,566.90 M599.93,577.33 L602.28,578.71 L604.96,582.11 L607.16,586.04 M614.54,592.80 L615.71,593.25 L618.39,600.15 L621.08,602.11 L621.81,603.31 M628.96,612.38 L629.14,612.71 L631.83,615.09 L634.51,615.98 L636.63,618.62 M644.82,626.77 L645.26,627.48 L647.94,628.07 L650.63,631.88 L652.90,633.07 M660.88,639.60 L661.38,639.63 L664.06,643.88 L666.75,647.32 L669.28,648.58 M678.54,656.50 L680.18,658.50 L682.87,661.27 L685.55,662.62 L686.44,664.18 M696.08,672.60 L696.30,672.74 L698.98,675.09 L701.67,677.49 L704.28,680.91 M712.78,688.35 L715.10,687.42 L717.79,689.91 L720.48,693.16 L721.81,693.70 M731.36,699.22 L733.91,701.40 L736.59,701.91 L739.28,704.16 L740.58,705.10 M750.93,711.24 L752.71,712.44 L755.40,715.78 L758.08,716.01 L760.77,717.70 L760.86,717.74 M770.87,722.07 L771.52,722.12 L774.20,723.74 L776.89,724.74 L779.57,725.82 L780.77,725.99 M792.20,731.37 L793.01,731.73 L795.69,732.97 L798.38,733.57 L801.07,734.90 L802.59,735.84 M811.97,739.93 L814.50,740.87 L817.18,741.30 L819.87,741.67 L822.56,743.56 L822.82,743.61 M832.20,745.14 L833.30,745.35 L835.99,745.79 L838.67,748.22 L841.36,749.06 L842.58,748.62 M853.48,752.01 L854.79,752.48 L857.48,753.18 L860.16,753.45 L862.85,753.81 L864.56,754.51 M876.40,756.74 L878.97,757.03 L881.66,757.84 L884.34,759.04 L886.65,759.46 M898.74,762.67 L900.46,762.82 L903.15,763.30 L905.83,764.14 L908.52,764.97 L909.60,765.44 M919.80,768.00 L921.95,767.82 L924.64,768.63 L927.32,768.67 L930.01,768.94 L930.75,768.83 M941.93,769.06 L943.44,769.35 L946.13,769.28 L948.81,769.54 L950.95,770.02" fill="none" stroke="#C80000" stroke-width="3.2" stroke-linecap="round" stroke-linejoin="round"/>
<path d="M879.7,629.3 L913.2,629.3" stroke="#92D050" stroke-width="2.6"/>
<path d="M881.1,674.1 L910,674.1" stroke="#4F81BD" stroke-width="2.7" stroke-linecap="round" stroke-dasharray="0 7.2"/>
<path d="M880.9,718.4 L912.6,718.4" stroke="#C00000" stroke-width="3" stroke-linecap="round" stroke-dasharray="11 13.6"/>
<text x="917.0" y="636.6" font-size="19.5" font-weight="bold" text-anchor="start" textLength="20.5" lengthAdjust="spacingAndGlyphs" stroke="#000" stroke-width="0.3">FC</text>
<text x="917.0" y="681.2" font-size="19.5" font-weight="bold" text-anchor="start" textLength="22.0" lengthAdjust="spacingAndGlyphs" stroke="#000" stroke-width="0.3">CC</text>
<text x="917.0" y="725.7" font-size="19.5" font-weight="bold" text-anchor="start" textLength="25.8" lengthAdjust="spacingAndGlyphs" stroke="#000" stroke-width="0.3">DA</text>
<defs>
<clipPath id="pc"><rect x="724.7" y="455.9" width="229.5" height="139"/></clipPath>
<filter id="bl1" x="-50%" y="-50%" width="200%" height="200%"><feGaussianBlur stdDeviation="0.7"/></filter>
<filter id="bl6" x="-50%" y="-50%" width="200%" height="200%"><feGaussianBlur stdDeviation="6"/></filter>
<linearGradient id="gcc" x1="0" y1="0" x2="0.6" y2="1">
<stop offset="0" stop-color="#3434c8"/><stop offset="0.35" stop-color="#3838f0"/><stop offset="0.75" stop-color="#3f48ff"/><stop offset="1" stop-color="#5566ff"/></linearGradient>
<linearGradient id="gfc" x1="0" y1="0" x2="0" y2="1">
<stop offset="0" stop-color="#46c896"/><stop offset="0.35" stop-color="#55dcb0"/><stop offset="0.7" stop-color="#6ae8cc"/><stop offset="0.8" stop-color="#8cf0dc"/><stop offset="0.86" stop-color="#d4faf0"/><stop offset="1" stop-color="#e6fff8"/></linearGradient>
<linearGradient id="gda" x1="0" y1="0" x2="0" y2="1">
<stop offset="0" stop-color="#88c058"/><stop offset="0.45" stop-color="#98d664"/><stop offset="0.78" stop-color="#a2e06c"/><stop offset="0.85" stop-color="#ccf08e"/><stop offset="1" stop-color="#dcfca0"/></linearGradient>
</defs>
<g clip-path="url(#pc)">
<rect x="724.7" y="455.9" width="229.5" height="139" fill="#0a0b0c"/>
<!-- glows -->
<path d="M752,505 L790,500 L838,584 L830,596 L810,590 Z" fill="#1818a0" opacity="0.5" filter="url(#bl6)"/>
<path d="M812,490 L848,488 L864,582 L855,596 L845,585 Z" fill="#1a7a5a" opacity="0.55" filter="url(#bl6)"/>
<path d="M900,487 L934,494 L897,588 L886,594 L880,580 Z" fill="#4a7a2a" opacity="0.45" filter="url(#bl6)"/>
<path d="M850,560 L900,560 L900,600 L850,600 Z" fill="#1a4a30" opacity="0.5" filter="url(#bl6)"/>
<!-- CC tube -->
<g filter="url(#bl1)">
<path d="M750,502.4 C762,498 778,496 788.4,502.4 C790,508 791,512 792,515 L809.5,539.7 L825.7,564.5 L836.8,583.1 C838,589 835,593.5 830,593.6 C822,593.6 815,589 809.5,583.1 L789.7,564.5 L771,539.7 L758.6,521 C754,514 751,508 750,502.4 Z" fill="url(#gcc)"/>
<path d="M729,509 C729,500 733,494 740,489 C748,483 758,481 768,482 C778,483 787,486 790,492 C792,498 788,502 780,505 C770,508 758,510 748,514 C740,517 731,515 729,509 Z" fill="#8484bc" opacity="0.75"/>
<path d="M731,508 C733,497 745,486 760,483 C775,481 788,485 790,492" stroke="#b4b4e0" stroke-width="1.2" fill="none" opacity="0.6"/>
<path d="M745,505 C758,498 775,494 789,497" stroke="#6a6af0" stroke-width="1.4" fill="none" opacity="0.7"/>
<path d="M797,528 L832,584" stroke="#7ea8ff" stroke-width="1.3" fill="none" opacity="0.8"/>
<path d="M790,545 L822,586" stroke="#5a5cff" stroke-width="1" fill="none" opacity="0.6"/>
</g>
<!-- FC tube -->
<g filter="url(#bl1)">
<path d="M808,480 C818,476 840,476 848,482 L844.8,493.6 L853.7,520.8 L859.8,547.9 L863.2,568.3 C864,580 862,586 856,587.5 C850,588 847,585 846.9,581.9 L839.4,568.3 L829.2,547.9 L820.4,520.8 L812.9,493.6 Z" fill="url(#gfc)"/>
<path d="M794.4,476.7 C795,471 798,468 800.6,467.5 C810,463 820,462.5 826.4,462.8 C838,463.5 848,467 852.2,471.6 C855,474 856,476 855.8,476.7 C855,481 853,484 851.1,486 C848,487.5 846,488 846,488.1 C835,486 820,485.5 806.8,486 C800,485 795,481 794.4,476.7 Z" fill="#78b898" opacity="0.75"/>
<path d="M794.4,476.7 C795,471 798,468 800.6,467.5 C810,463 820,462.5 826.4,462.8 C838,463.5 848,467 852.2,471.6 C855,474 856,476 855.8,476.7" stroke="#a8e0c0" stroke-width="1.2" fill="none" opacity="0.7"/>
<ellipse cx="827.4" cy="486" rx="15.5" ry="6.2" fill="#5cc89a" fill-opacity="0.6" stroke="#7ceab0" stroke-width="1.5" opacity="0.9"/>
</g>
<!-- DA tube -->
<g filter="url(#bl1)">
<path d="M898,478 C910,474 930,480 938,488 L933.9,497 L925.7,521.5 L915.9,546.1 L904.4,570.7 L896.2,583.8 C894,588 891,590 888,589.5 C884,589 881,585 881.5,578.9 L885.6,554.3 L892.9,521.5 L901.1,488.8 Z" fill="url(#gda)"/>
<path d="M892.1,469.1 C893,464 896,461 899.5,460.9 C906,461 913,462 919.1,464.2 C928,467 937,472 943.7,477.3 C948,480 951,483 951.1,486.3 C951,490 950,493 948.6,495.3 C946,497 943,497 940.4,497 C930,493 915,489 899.5,477.3 C895,475 892,472 892.1,469.1 Z" fill="#94ac6c" opacity="0.8"/>
<path d="M892.1,469.1 C893,464 896,461 899.5,460.9 C906,461 913,462 919.1,464.2 C928,467 937,472 943.7,477.3 C948,480 951,483 951.1,486.3" stroke="#c0d890" stroke-width="1.2" fill="none" opacity="0.6"/>
<ellipse cx="919.1" cy="488" rx="16.4" ry="6.5" transform="rotate(12 919.1 488)" fill="#90c860" fill-opacity="0.6" stroke="#a8f070" stroke-width="1.5" opacity="0.9"/>
</g>
<!-- labels -->
<rect x="766.2" y="511" width="26.5" height="24.2" fill="#fff"/>
<rect x="826.4" y="510.9" width="24.7" height="23.6" fill="#fff"/>
<rect x="892.9" y="512.5" width="30.3" height="24.6" fill="#fff"/>
<text x="779.4" y="528.3" font-size="14" font-weight="bold" text-anchor="middle" textLength="17.5" lengthAdjust="spacingAndGlyphs">CC</text>
<text x="838.8" y="528.6" font-size="14.5" font-weight="bold" text-anchor="middle" textLength="15.5" lengthAdjust="spacingAndGlyphs">FC</text>
<text x="908.1" y="530.5" font-size="14" font-weight="bold" text-anchor="middle" textLength="18.8" lengthAdjust="spacingAndGlyphs">DA</text>
<rect x="724.8" y="455.9" width="229.4" height="0.9" fill="#000"/>
</g>

</svg>
</body></html>
